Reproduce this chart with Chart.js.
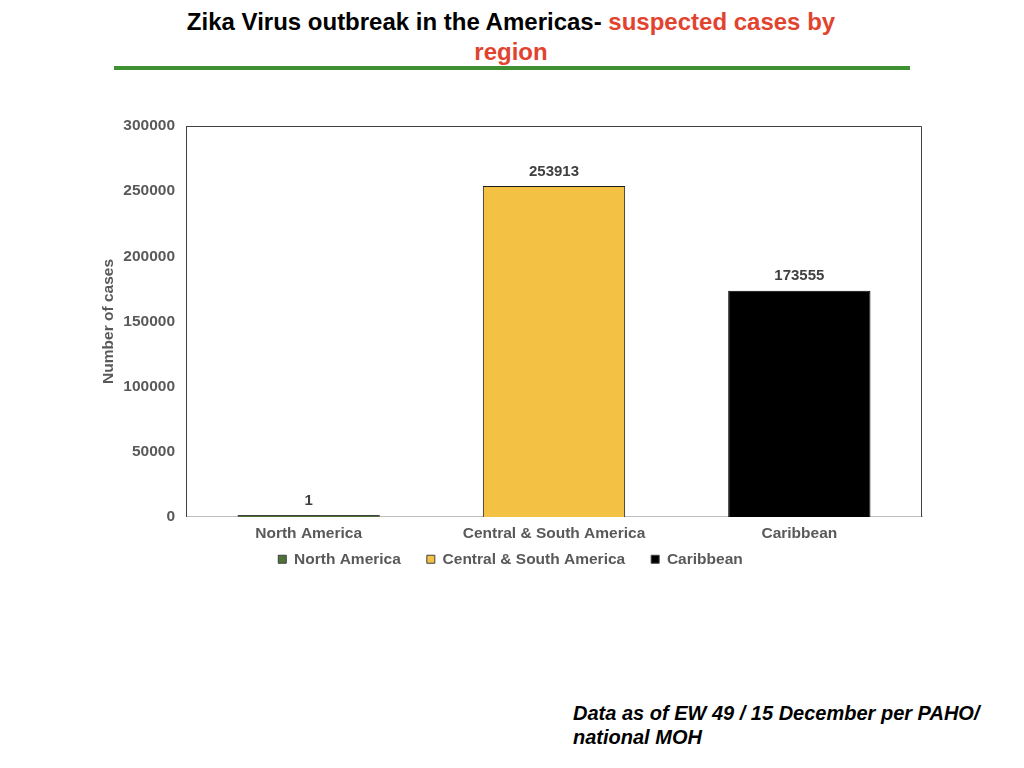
<!DOCTYPE html>
<html>
<head>
<meta charset="utf-8">
<script src="https://cdn.jsdelivr.net/npm/chart.js@4.4.0/dist/chart.umd.min.js"></script>
<style>
  body { margin: 0; width: 1024px; height: 768px; background: #fff; position: relative; overflow: hidden;
         font-family: "Liberation Sans", Arial, Helvetica, sans-serif; }
  .title { position: absolute; left: 0; top: 7px; width: 1022px; text-align: center;
           font-size: 24px; font-weight: bold; line-height: 30px; color: #000; }
  .title .red { color: #e2432e; }
  .rule { position: absolute; left: 114px; top: 66px; width: 796px; height: 4px; background: #3e9130; }
  .chart-box { position: absolute; left: 90px; top: 110px; width: 850px; height: 485px; }
  .note { position: absolute; left: 573px; top: 701px; font-size: 20px; font-weight: bold;
          font-style: italic; line-height: 24px; color: #000; }
</style>
</head>
<body>
<div class="title">Zika Virus outbreak in the Americas- <span class="red">suspected cases by</span><br><span class="red">region</span></div>
<div class="rule"></div>
<div class="chart-box"><canvas id="zika-chart"></canvas></div>
<div class="note">Data as of EW 49 / 15 December per PAHO/<br>national MOH</div>

<script>
const regions = ["North America", "Central & South America", "Caribbean"];
const suspectedCases = [1, 253913, 173555];
const barColors = ["#4d7434", "#f3c245", "#000000"];
const barBorders = ["#404040", "#1a1a1a", "#000000"];

const labelFont = { family: '"Liberation Sans", Arial, sans-serif', size: 15.5, weight: "bold" };
const textGray = "#595959";

// value labels above each bar
const valueLabels = {
  id: "valueLabels",
  afterDatasetsDraw(chart) {
    const ctx = chart.ctx;
    const meta = chart.getDatasetMeta(0);
    ctx.save();
    ctx.font = 'bold 15px "Liberation Sans", Arial, sans-serif';
    ctx.fillStyle = "#404040";
    ctx.textAlign = "center";
    ctx.textBaseline = "bottom";
    meta.data.forEach((bar, i) => {
      ctx.fillText(String(suspectedCases[i]), bar.x, bar.y - 7);
    });
    ctx.restore();
  }
};

// box round the plot area
const plotFrame = {
  id: "plotFrame",
  afterDraw(chart) {
    const a = chart.chartArea;
    const ctx = chart.ctx;
    ctx.save();
    ctx.strokeStyle = "#404040";
    ctx.lineWidth = 1;
    ctx.beginPath();
    ctx.moveTo(a.left + 0.5, a.bottom);
    ctx.lineTo(a.left + 0.5, a.top + 0.5);
    ctx.lineTo(a.right - 0.5, a.top + 0.5);
    ctx.lineTo(a.right - 0.5, a.bottom);
    ctx.stroke();
    ctx.restore();
  }
};

// legend sits closer to the axis labels than its item spacing would give
const legendLift = {
  id: "legendLift",
  afterLayout(chart) {
    if (chart.legend) {
      chart.legend.top -= 18;
      chart.legend.bottom -= 18;
    }
  }
};

new Chart(document.getElementById("zika-chart").getContext("2d"), {
  type: "bar",
  data: {
    labels: regions,
    datasets: [{
      label: "Suspected cases",
      data: suspectedCases,
      backgroundColor: barColors,
      borderColor: barBorders,
      borderWidth: 1,
      minBarLength: 2,
      barPercentage: 0.58,
      categoryPercentage: 1
    }]
  },
  options: {
    responsive: true,
    maintainAspectRatio: false,
    animation: false,
    layout: { padding: { left: 9, right: 18, top: 16, bottom: 0 } },
    plugins: {
      tooltip: { enabled: false },
      legend: {
        position: "bottom",
        labels: {
          color: textGray,
          font: labelFont,
          boxWidth: 8,
          boxHeight: 8,
          padding: 26,
          generateLabels: () => regions.map((r, i) => ({
            text: r,
            fillStyle: barColors[i],
            strokeStyle: "#404040",
            lineWidth: 1,
            fontColor: textGray,
            index: i
          }))
        }
      }
    },
    scales: {
      x: {
        grid: { display: false },
        border: { color: "#bfbfbf" },
        ticks: { color: textGray, font: labelFont, padding: 0 }
      },
      y: {
        min: 0,
        max: 300000,
        grid: { display: false },
        border: { color: "#404040" },
        ticks: {
          stepSize: 50000, color: textGray, font: labelFont, padding: 3,
          callback: (v) => String(v)
        },
        title: { display: true, text: "Number of cases", color: textGray, font: labelFont, padding: 0 },
        afterFit(scale) { scale.width = 87; }
      }
    }
  },
  plugins: [valueLabels, plotFrame, legendLift]
});
</script>
</body>
</html>
